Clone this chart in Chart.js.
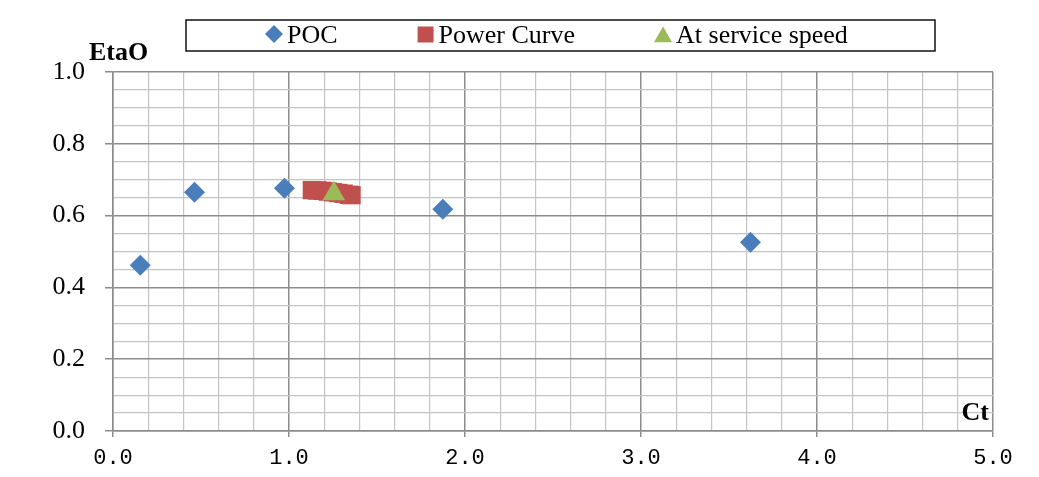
<!DOCTYPE html>
<html>
<head>
<meta charset="utf-8">
<script src="https://cdn.jsdelivr.net/npm/chart.js@4.4.1/dist/chart.umd.min.js"></script>
<style>
  html, body { margin: 0; padding: 0; background: #fff; }
  #wrap { width: 1039px; height: 477px; }
</style>
</head>
<body>
<div id="wrap"><canvas id="chart" width="1039" height="477"></canvas></div>
<script>
// values
const pocCt = [0.155, 0.463, 0.974, 1.874, 3.622];
const pocEta = [0.462, 0.665, 0.676, 0.618, 0.526];

const powerCt = [1.13, 1.16, 1.19, 1.22, 1.25, 1.28, 1.31, 1.34, 1.355];
const powerEta = [0.671, 0.670, 0.669, 0.667, 0.665, 0.663, 0.661, 0.658, 0.657];

const serviceCt = [1.255];
const serviceEta = [0.661];

const seriesNames = ['POC', 'Power Curve', 'At service speed'];
const xTicks = [0, 1, 2, 3, 4, 5];
const yTicks = [0, 0.2, 0.4, 0.6, 0.8, 1.0];

const BLUE = '#4a7ebb';
const RED = '#c0504d';
const GREEN = '#9bbb59';
const SERIF = '"Liberation Serif", "Times New Roman", serif';

const toPoints = (xs, ys) => xs.map((x, i) => ({ x: x, y: ys[i] }));
const isXMajor = v => xTicks.some(t => Math.abs(t - v) < 1e-6);
const isYMajor = v => yTicks.some(t => Math.abs(t - v) < 1e-6);

// legend box and axis titles drawn like the Excel original
const excelDecor = {
    id: 'excelDecor',
    afterDraw(chart) {
        const ctx = chart.ctx;
        const area = chart.chartArea;
        ctx.save();

        // legend frame
        ctx.fillStyle = '#fff';
        ctx.strokeStyle = '#000';
        ctx.lineWidth = 1.4;
        ctx.fillRect(186, 20, 749, 31);
        ctx.strokeRect(186, 20, 749, 31);

        ctx.font = '26px ' + SERIF;
        ctx.textBaseline = 'alphabetic';
        let x = 274;
        const legendSizes = [9, 11.3, 10.4];
        const legendY = [34, 34.5, 37];
        // legend entries follow the dataset order
        [0, 1, 2].forEach(i => {
            const ds = chart.data.datasets[i];
            ctx.fillStyle = ds.backgroundColor;
            ctx.strokeStyle = ds.backgroundColor;
            Chart.helpers.drawPoint(ctx, {
                pointStyle: ds.pointStyle,
                radius: legendSizes[i],
                rotation: 0,
                borderWidth: 0,
            }, x, legendY[i]);
            ctx.fillStyle = '#000';
            ctx.fillText(ds.label, x + 13, 43);
            x += 13 + ctx.measureText(ds.label).width + 88;
        });

        // axis titles
        ctx.font = 'bold 26px ' + SERIF;
        ctx.textAlign = 'left';
        ctx.fillText('EtaO', 89, 60);
        ctx.textAlign = 'right';
        ctx.fillText('Ct', area.right - 4, 420);
        ctx.restore();
    }
};

const chart = new Chart(document.getElementById('chart'), {
    type: 'scatter',
    data: {
        datasets: [
            {
                label: seriesNames[0],
                data: toPoints(pocCt, pocEta),
                pointStyle: 'rectRot',
                pointRadius: 10.5,
                backgroundColor: BLUE,
                borderColor: BLUE,
                borderWidth: 0,
                order: 3,
            },
            {
                label: seriesNames[1],
                data: toPoints(powerCt, powerEta),
                pointStyle: 'rect',
                pointRadius: 13,
                backgroundColor: RED,
                borderColor: RED,
                borderWidth: 0,
                order: 2,
            },
            {
                label: seriesNames[2],
                data: toPoints(serviceCt, serviceEta),
                pointStyle: 'triangle',
                pointRadius: 13,
                backgroundColor: GREEN,
                borderColor: GREEN,
                borderWidth: 0,
                order: 1,
            },
        ],
    },
    options: {
        responsive: false,
        animation: false,
        devicePixelRatio: 1,
        layout: {
            padding: { top: 72, right: 46, bottom: 0, left: 0 },
        },
        plugins: {
            legend: { display: false },
            tooltip: { enabled: false },
        },
        scales: {
            x: {
                type: 'linear',
                min: 0,
                max: 5,
                afterFit: scale => { scale.height = 46; },
                border: { color: '#8c8c8c', width: 1.5 },
                grid: {
                    color: ctx => isXMajor(ctx.tick.value) ? '#8c8c8c' : '#c4c4c4',
                    lineWidth: ctx => isXMajor(ctx.tick.value) ? 1.5 : 1.2,
                    tickColor: ctx => isXMajor(ctx.tick.value) ? '#8c8c8c' : 'rgba(0,0,0,0)',
                    tickLength: 6,
                },
                ticks: {
                    stepSize: 0.2,
                    autoSkip: false,
                    maxRotation: 0,
                    padding: 8,
                    color: '#000',
                    font: { family: '"Liberation Mono", "DejaVu Sans Mono", monospace', size: 22 },
                    callback: v => isXMajor(v) ? v.toFixed(1) : '',
                },
            },
            y: {
                type: 'linear',
                min: 0,
                max: 1,
                afterFit: scale => { scale.width = 113; },
                border: { color: '#8c8c8c', width: 1.5 },
                grid: {
                    color: ctx => isYMajor(ctx.tick.value) ? '#8c8c8c' : '#c4c4c4',
                    lineWidth: ctx => isYMajor(ctx.tick.value) ? 1.5 : 1.2,
                    tickColor: ctx => isYMajor(ctx.tick.value) ? '#8c8c8c' : 'rgba(0,0,0,0)',
                    tickLength: 8,
                },
                ticks: {
                    stepSize: 0.05,
                    autoSkip: false,
                    padding: 20,
                    color: '#000',
                    font: { family: SERIF, size: 26 },
                    callback: v => isYMajor(v) ? v.toFixed(1) : '',
                },
            },
        },
    },
    plugins: [excelDecor],
});
</script>
</body>
</html>
